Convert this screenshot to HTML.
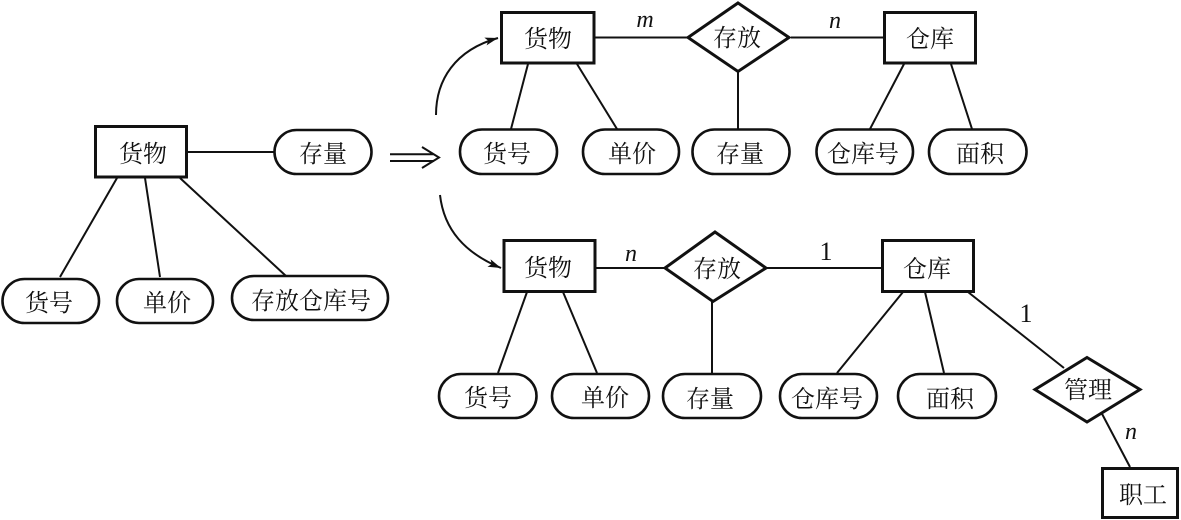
<!DOCTYPE html>
<html><head><meta charset="utf-8"><style>html,body{margin:0;padding:0;background:#fff}svg{display:block}
text{font-family:"Noto Serif CJK SC","Liberation Serif",serif;font-size:24px;fill:#111;text-anchor:middle}
.i{font-family:"Liberation Serif",serif;font-style:italic}
.n{font-family:"Liberation Serif",serif;font-size:26px}
</style></head><body>
<svg width="1181" height="520" viewBox="0 0 1181 520" xmlns="http://www.w3.org/2000/svg">
<defs><marker id="a" markerWidth="14" markerHeight="10" refX="13" refY="4.5" orient="auto" markerUnits="userSpaceOnUse"><path d="M0 0.5L13 4.5L0 8.5L3 4.5Z" fill="#111"/></marker></defs>
<g stroke="#111" stroke-width="2" fill="none">
<path d="M187 152H274M117 178L60 277M145 178L160 277M180 178L286 276"/>
<path d="M595 37.5H687M791 37.5H883M528 64L511 129M577 64L617 129M738 72V129M904 64L870 129M951 64L972 129"/>
<path d="M595 268H664M767 268H881M527 292L498 373M563 292L597 373M712 300V373M903 292L837 373M925 292L944 373M968 292L1064 368M1100 410L1130 467"/>
<path d="M436 115C436 80 455 50 498 38" marker-end="url(#a)"/>
<path d="M440 195C444 230 465 253 501 268" marker-end="url(#a)"/>
<path d="M390 154.3H434M390 161H434M422 147L439 157.5L422 168"/>
</g>
<g stroke="#111" stroke-width="3" fill="#fff">
<rect x="95.5" y="126.5" width="91" height="50.5"/><rect x="501.5" y="12.5" width="92.5" height="50.5"/><rect x="884.5" y="12.5" width="91" height="50.5"/>
<rect x="504" y="240.5" width="91" height="51"/><rect x="882.5" y="240.5" width="91" height="51"/><rect x="1102.5" y="468.5" width="75" height="49"/>
<g stroke-width="2.6">
<rect x="274.5" y="130" width="97" height="44" rx="22"/><rect x="2.5" y="279" width="96.5" height="44" rx="22"/><rect x="117" y="279" width="96" height="44" rx="22"/><rect x="232" y="276" width="156" height="44" rx="22"/>
<rect x="460" y="129.5" width="97" height="44.5" rx="22"/><rect x="583" y="129.5" width="96" height="44.5" rx="22"/><rect x="692.5" y="129.5" width="97" height="44.5" rx="22"/><rect x="816.5" y="129.5" width="96.5" height="44.5" rx="22"/><rect x="929" y="129.5" width="97.5" height="44.5" rx="22"/>
<rect x="439" y="374" width="97.5" height="44" rx="22"/><rect x="552" y="374" width="97" height="44" rx="22"/><rect x="663" y="374" width="98" height="44" rx="22"/><rect x="780" y="374" width="97" height="44" rx="22"/><rect x="898" y="374" width="98" height="44" rx="22"/>
</g>
<path d="M738 3L789 37.5L738 71.5L688 37.5Z"/><path d="M715 232L766 268L713 301.5L665 268Z"/><path d="M1087 357.5L1140 389.5L1087 422L1035 389.5Z"/>
</g>
<text x="143" y="162">货物</text><text x="323" y="162">存量</text><text x="49" y="311">货号</text><text x="167" y="311">单价</text><text x="311" y="309">存放仓库号</text>
<text x="548" y="47">货物</text><text x="737" y="46">存放</text><text x="930" y="47">仓库</text>
<text x="507" y="162">货号</text><text x="632" y="162">单价</text><text x="740" y="162">存量</text><text x="863" y="162">仓库号</text><text x="980" y="162">面积</text>
<text x="548" y="276">货物</text><text x="717" y="277">存放</text><text x="927" y="277">仓库</text>
<text x="488" y="406">货号</text><text x="605" y="406">单价</text><text x="710" y="407">存量</text><text x="827" y="407">仓库号</text><text x="950" y="407">面积</text>
<text x="1088" y="398">管理</text><text x="1143" y="503">职工</text>
<text class="i" x="645" y="27">m</text><text class="i" x="835" y="28">n</text><text class="i" x="631" y="261">n</text><text class="n" x="826" y="260">1</text><text class="n" x="1026" y="322">1</text><text class="i" x="1131" y="439">n</text>
</svg>
</body></html>
